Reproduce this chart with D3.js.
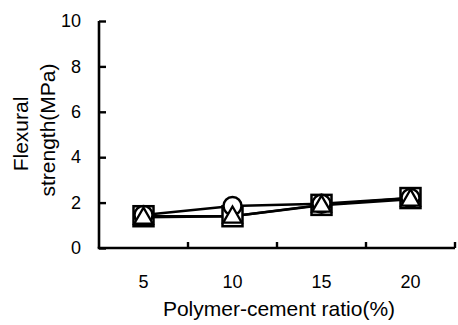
<!DOCTYPE html>
<html><head><meta charset="utf-8">
<script src="https://cdn.jsdelivr.net/npm/d3@7"></script>
<style>body{margin:0;background:#fff}svg{display:block}text{font-family:"Liberation Sans",Arial,sans-serif;fill:#000}</style>
</head><body>
<svg id="c" width="458" height="325"></svg>
<script>
const categories = ["5", "10", "15", "20"];
const circleVals = [1.45, 1.85, 1.95, 2.2];
const squareVals = [1.4, 1.4, 1.9, 2.2];
const triangleVals = [1.35, 1.4, 1.88, 2.15];
const yTicks = [0, 2, 4, 6, 8, 10];
const xTitle = "Polymer-cement ratio(%)";
const yTitle = ["Flexural", "strength(MPa)"];

const svg = d3.select("#c");
const x = d3.scaleBand().domain(categories).range([99, 455]).padding(0);
const y = d3.scaleLinear().domain([0, 10]).range([248, 21]);
const cx = d => x(d) + x.bandwidth() / 2;

// y axis
const ya = svg.append("g").attr("transform", "translate(99,0)")
  .call(d3.axisLeft(y).tickValues(yTicks).tickSize(-7).tickPadding(18).tickFormat(d3.format("d")));
ya.select(".domain").attr("stroke-width", 2.6).attr("d", `M0,${y(10)}V${y(0)}`);
ya.selectAll(".tick line").attr("stroke-width", 2.4);
ya.selectAll("text").style("font-size", "18px").attr("font-family", null);

// x axis
const xa = svg.append("g").attr("transform", `translate(0,${y(0)})`)
  .call(d3.axisBottom(x).tickSize(0).tickPadding(27));
xa.select(".domain").attr("stroke-width", 2.6).attr("d", `M97.7,0H455`);
xa.selectAll("text").style("font-size", "18px").attr("font-family", null);
svg.append("g").selectAll("line").data(categories).join("line")
  .attr("x1", d => x(d) + x.bandwidth()).attr("x2", d => x(d) + x.bandwidth())
  .attr("y1", y(0)).attr("y2", y(0) - 6).attr("stroke", "#000").attr("stroke-width", 2.4);

// titles
svg.append("text").attr("x", 279).attr("y", 316).attr("text-anchor", "middle")
  .style("font-size", "21px").text(xTitle);
svg.append("text").attr("transform", "translate(28,134) rotate(-90)").attr("text-anchor", "middle")
  .style("font-size", "21px").text(yTitle[0]);
svg.append("text").attr("transform", "translate(55,130) rotate(-90)").attr("text-anchor", "middle")
  .style("font-size", "21px").text(yTitle[1]);

// lines
const line = d3.line().x((v, i) => cx(categories[i])).y(v => y(v));
[circleVals, squareVals, triangleVals].forEach(vals => {
  svg.append("path").attr("d", line(vals)).attr("fill", "none").attr("stroke", "#000").attr("stroke-width", 2.5);
});

// markers
svg.append("g").selectAll("rect").data(squareVals).join("rect")
  .attr("x", (v, i) => cx(categories[i]) - 10).attr("y", v => y(v) - 10)
  .attr("width", 20).attr("height", 20).attr("fill", "#fff").attr("stroke", "#000").attr("stroke-width", 2.5);
svg.append("g").selectAll("circle").data(circleVals).join("circle")
  .attr("cx", (v, i) => cx(categories[i])).attr("cy", v => y(v)).attr("r", 9)
  .attr("fill", "#fff").attr("stroke", "#000").attr("stroke-width", 2.5);
const tri = d3.symbol().type(d3.symbolTriangle).size(150);
svg.append("g").selectAll("path").data(triangleVals).join("path")
  .attr("transform", (v, i) => `translate(${cx(categories[i])},${y(v) + 1})`).attr("d", tri)
  .attr("fill", "#fff").attr("stroke", "#000").attr("stroke-width", 2.3);
</script>
</body></html>
